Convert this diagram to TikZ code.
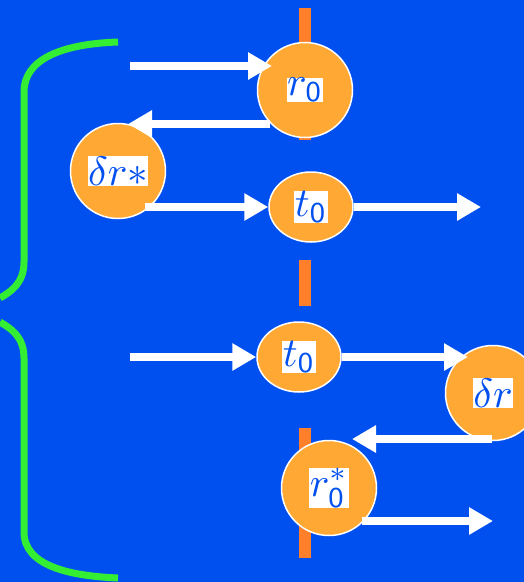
\documentclass[tikz,border=0pt]{standalone}
\usepackage{graphicx}
\usetikzlibrary{arrows.meta,shapes.geometric}
\definecolor{bg}{RGB}{0,80,240}
\definecolor{ball}{RGB}{255,168,51}
\definecolor{bar}{RGB}{255,127,42}
\definecolor{brace}{RGB}{51,238,51}
\newcommand{\bigtxt}[1]{\scalebox{4.1}{#1}}
\tikzset{
  ball/.style={circle,fill=ball,draw=white,line width=1.5pt,minimum size=95pt,inner sep=0pt},
  oval/.style={ellipse,fill=ball,draw=white,line width=1.5pt,minimum width=84pt,minimum height=70pt,inner sep=0pt},
  lbl/.style={fill=white,text=bg,inner sep=0.5pt},
  arr/.style={draw=white,line width=8pt,-{Triangle[length=24pt,width=26pt]}},
  barline/.style={draw=bar,line width=12pt},
  bracel/.style={draw=brace,line width=7pt}
}
\begin{document}
\begin{tikzpicture}[x=1pt,y=-1pt]
\fill[bg] (0,0) rectangle (524,582);
\useasboundingbox (0,0) rectangle (524,582);
% orange bars
\draw[barline] (305,8) -- (305,140);
\draw[barline] (305,260) -- (305,306);
\draw[barline] (305,428) -- (305,558);
% braces
\draw[bracel] (118,42) .. controls (60,44) and (24,60) .. (24,92) -- (24,262) .. controls (24,284) and (10,292) .. (0,298);
\draw[bracel] (0,322) .. controls (10,328) and (24,336) .. (24,358) -- (24,532) .. controls (24,566) and (70,576) .. (118,578);
% nodes
\node[ball] (r0) at (305,90) {};
\node[lbl] at (r0) {\bigtxt{$r_{\mathsf{0}}$}};
\node[ball] (dr) at (118,171) {};
\node[lbl] at (dr) {\bigtxt{$\delta r *$}};
\node[oval] (t1) at (311,207) {};
\node[lbl] at (t1) {\bigtxt{$t_{\mathsf{0}}$}};
\node[oval] (t2) at (299,357) {};
\node[lbl] at (t2) {\bigtxt{$t_{\mathsf{0}}$}};
\node[ball] (dr2) at (493,393) {};
\node[lbl] at (dr2) {\bigtxt{$\delta r$}};
\node[ball] (rs) at (329,488) {};
\node[lbl] at (rs) {\bigtxt{$r_{\mathsf{0}}^{*}$}};
% coordinates
\coordinate (a1s) at (130,66);  \coordinate (a1e) at (272,66);
\coordinate (a2s) at (270,124); \coordinate (a2e) at (128,124);
\coordinate (a3s) at (145,207);
\coordinate (a4e) at (481,207);
\coordinate (a5s) at (130,357);
\coordinate (a6e) at (468,357);
\coordinate (a7s) at (492,439); \coordinate (a7e) at (352,439);
\coordinate (a8s) at (362,521); \coordinate (a8e) at (493,521);
% arrows
\draw[arr] (a1s) -- (a1e);
\draw[arr] (a2s) -- (a2e);
\draw[arr] (a3s) -- (t1.west);
\draw[arr] (t1.east) -- (a4e);
\draw[arr] (a5s) -- (t2.west);
\draw[arr] (t2.east) -- (a6e);
\draw[arr] (a7s) -- (a7e);
\draw[arr] (a8s) -- (a8e);
\end{tikzpicture}
\end{document}
